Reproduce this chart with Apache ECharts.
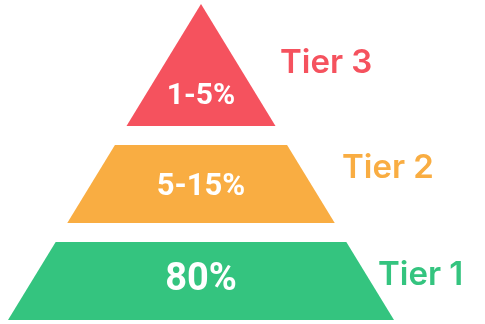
<!DOCTYPE html>
<html>
<head>
<meta charset="utf-8">
<style>
  html, body { margin: 0; padding: 0; background: #ffffff; }
  #chart { width: 485px; height: 324px; }
</style>
<script src="https://cdn.jsdelivr.net/npm/echarts@6/dist/echarts.min.js"></script>
</head>
<body>
<div id="chart"></div>
<script>
// ---- data ----
const tiers = ['Tier 1', 'Tier 2', 'Tier 3'];
const shares = ['80%', '5-15%', '1-5%'];
// vertical extent of each tier on the pyramid (0 = base, 1 = apex)
const tierBottom = [0, 0.307, 0.614];
const tierTop = [0.247, 0.554, 1];

// ---- styles / layout (not data) ----
const colors = ['#34C47F', '#F9AD42', '#F5525E'];
const shareFont = [38, 31, 30];
const shareDy = [0, 3, 32];        // px offset of inner label from tier middle
const tierLabelX = [378, 342, 280]; // px left of tier label
const tierLabelDy = [-6, -16, -2];

const chart = echarts.init(document.getElementById('chart'));

const data = tiers.map((t, i) => [tierBottom[i], tierTop[i], i]);

chart.setOption({
  animation: false,
  grid: { left: 8, top: 4, width: 386, height: 316 },
  xAxis: { type: 'value', min: -1, max: 1, show: false },
  yAxis: { type: 'value', min: 0, max: 1, show: false },
  series: [{
    type: 'custom',
    data: data,
    clip: false,
    renderItem: function (params, api) {
      const b = api.value(0), t = api.value(1), i = api.value(2);
      const hw = y => 1 - y; // half width of pyramid at level y
      const p1 = api.coord([-hw(b), b]);
      const p2 = api.coord([hw(b), b]);
      const p3 = api.coord([hw(t), t]);
      const p4 = api.coord([-hw(t), t]);
      const mid = api.coord([0, (b + t) / 2]);
      return {
        type: 'group',
        children: [
          {
            type: 'polygon',
            shape: { points: [p1, p2, p3, p4] },
            style: { fill: colors[i] }
          },
          {
            type: 'text',
            style: {
              text: shares[i],
              x: mid[0],
              y: mid[1] + shareDy[i],
              align: 'center',
              verticalAlign: 'middle',
              fill: '#ffffff',
              font: 'bold ' + shareFont[i] + 'px Roboto'
            }
          },
          {
            type: 'text',
            style: {
              text: tiers[i],
              x: tierLabelX[i],
              y: mid[1] + tierLabelDy[i],
              align: 'left',
              verticalAlign: 'middle',
              fill: colors[i],
              font: '600 33px Inter'
            }
          }
        ]
      };
    }
  }]
});
</script>
</body>
</html>
